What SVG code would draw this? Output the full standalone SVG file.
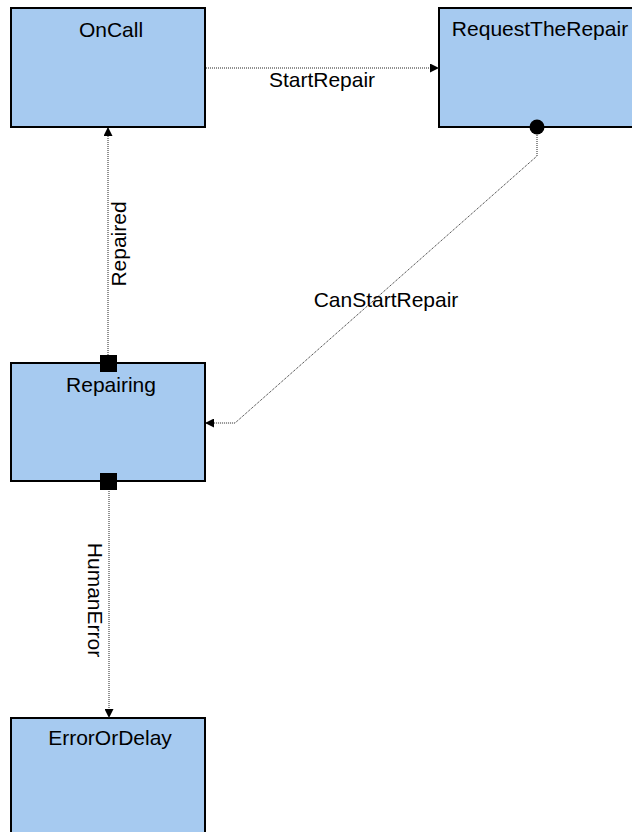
<svg xmlns="http://www.w3.org/2000/svg" width="632" height="832" viewBox="0 0 632 832">
<defs>
<style>
.box{fill:#A6CAF0;stroke:#000;stroke-width:2}
.lbl{font-family:"Liberation Sans",Arial,sans-serif;font-size:21px;fill:#000;text-anchor:middle}
.conn{fill:none;stroke:#222;stroke-width:1;stroke-dasharray:1 1}
</style>
<marker id="arr" viewBox="0 0 10 10" refX="10" refY="5" markerWidth="9" markerHeight="9" markerUnits="userSpaceOnUse" orient="auto">
<path d="M0,0 L10,5 L0,10 Z" fill="#000"/>
</marker>
</defs>
<rect width="632" height="832" fill="#fff"/>
<g id="OnCall">
<rect class="box" x="11" y="8" width="194" height="119"/>
<text class="lbl" x="111" y="37">OnCall</text>
</g>
<g id="RequestTheRepair">
<rect class="box" x="439" y="8" width="200" height="119"/>
<text class="lbl" x="540" y="36">RequestTheRepair</text>
</g>
<g id="Repairing">
<rect class="box" x="11" y="363" width="194" height="118"/>
<text class="lbl" x="111" y="392">Repairing</text>
</g>
<g id="ErrorOrDelay">
<rect class="box" x="11" y="718" width="194" height="130"/>
<text class="lbl" x="110" y="745">ErrorOrDelay</text>
</g>
<g id="connectors">
<g id="StartRepair">
<path class="conn" d="M206,68 H439" marker-end="url(#arr)"/>
<text class="lbl" x="322" y="87">StartRepair</text>
</g>
<g id="CanStartRepair">
<path class="conn" d="M537,127 V156 L235,423 H205" marker-end="url(#arr)"/>
<circle cx="537" cy="127" r="7.5" fill="#000"/>
<text class="lbl" x="386" y="307">CanStartRepair</text>
</g>
<g id="Repaired">
<path class="conn" d="M108,363 V127" marker-end="url(#arr)"/>
<rect x="100" y="355" width="17" height="17" fill="#000"/>
<text class="lbl" transform="translate(126,244) rotate(-90)">Repaired</text>
</g>
<g id="HumanError">
<path class="conn" d="M109,481 V718" marker-end="url(#arr)"/>
<rect x="100" y="473" width="17" height="17" fill="#000"/>
<text class="lbl" transform="translate(88,600) rotate(90)">HumanError</text>
</g>
</g>
</svg>
